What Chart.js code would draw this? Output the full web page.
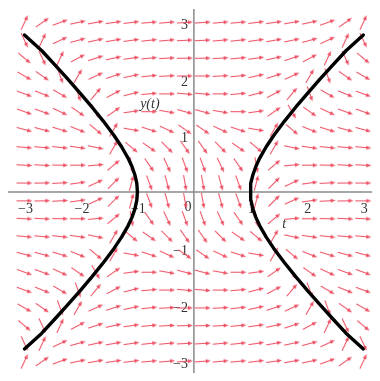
<!DOCTYPE html>
<html>
<head>
<meta charset="utf-8">
<script src="https://cdn.jsdelivr.net/npm/chart.js@4.4.1/dist/chart.umd.min.js"></script>
<style>
  html, body { margin: 0; padding: 0; background: #ffffff; }
  canvas { display: block; }
</style>
</head>
<body>
<canvas id="field" width="380" height="381"></canvas>
<script>
// Grid of the direction field (t across, y from top to bottom)
const tGrid = [-3, -2.684, -2.368, -2.053, -1.737, -1.421, -1.105, -0.789, -0.474, -0.158,
               0.158, 0.474, 0.789, 1.105, 1.421, 1.737, 2.053, 2.368, 2.684, 3];
const yGrid = [3, 2.684, 2.368, 2.053, 1.737, 1.421, 1.105, 0.789, 0.474, 0.158,
               -0.158, -0.474, -0.789, -1.105, -1.421, -1.737, -2.053, -2.368, -2.684, -3];

// Arrow direction in degrees (counter-clockwise from the +t direction), one row per yGrid value
const slopeAngles = [
  [65, 35, 20, 12, 10, 8, 7, 5, 5, 4, 4, 5, 5, 7, 8, 10, 12, 20, 35, 65],
  [-65, 65, 25, 15, 12, 10, 8, 6, 5, 3, 3, 5, 6, 8, 10, 12, 15, 25, 65, -65],
  [-40, -65, 65, 28, 18, 12, 8, 5, 3, 1, 1, 3, 5, 8, 12, 18, 28, 65, -65, -40],
  [-30, -35, -70, 60, 25, 18, 12, 6, 3, 0, 0, 3, 6, 12, 18, 25, 60, -70, -35, -30],
  [-20, -22, -30, -70, 50, 28, 14, 5, 0, -5, -5, 0, 5, 14, 28, 50, -70, -30, -22, -20],
  [-20, -20, -25, -35, -60, 35, 8, 0, -10, -15, -15, -10, 0, 8, 35, -60, -35, -25, -20, -20],
  [-15, -15, -17, -22, -40, 60, -10, -18, -25, -35, -35, -25, -18, -10, 60, -40, -22, -17, -15, -15],
  [-5, -5, -6, -8, -12, 60, -40, -35, -45, -55, -55, -45, -35, -40, 60, -12, -8, -6, -5, -5],
  [-3, -3, -1, 0, 5, 40, -80, -55, -65, -70, -70, -65, -55, -80, 40, 5, 0, -1, -3, -3],
  [0, 1, 3, 8, 25, 45, 75, -70, -75, -80, -80, -75, -70, 75, 45, 25, 8, 3, 1, 0],
  [0, 1, 3, 8, 25, 45, 75, -70, -75, -80, -80, -75, -70, 75, 45, 25, 8, 3, 1, 0],
  [-3, -3, -1, 0, 5, 40, -80, -55, -65, -70, -70, -65, -55, -80, 40, 5, 0, -1, -3, -3],
  [-5, -5, -6, -8, -12, 60, -40, -35, -45, -55, -55, -45, -35, -40, 60, -12, -8, -6, -5, -5],
  [-15, -15, -17, -22, -40, 60, -10, -18, -25, -35, -35, -25, -18, -10, 60, -40, -22, -17, -15, -15],
  [-20, -20, -25, -35, -60, 35, 8, 0, -10, -15, -15, -10, 0, 8, 35, -60, -35, -25, -20, -20],
  [-20, -22, -30, -70, 50, 28, 14, 5, 0, -5, -5, 0, 5, 14, 28, 50, -70, -30, -22, -20],
  [-30, -35, -70, 60, 25, 18, 12, 6, 3, 0, 0, 3, 6, 12, 18, 25, 60, -70, -35, -30],
  [-40, -65, 65, 28, 18, 12, 8, 5, 3, 1, 1, 3, 5, 8, 12, 18, 28, 65, -65, -40],
  [-65, 65, 25, 15, 12, 10, 8, 6, 5, 3, 3, 5, 6, 8, 10, 12, 15, 25, 65, -65],
  [65, 35, 20, 12, 10, 8, 7, 5, 5, 4, 4, 5, 5, 7, 8, 10, 12, 20, 35, 65]
];

// Hyperbola branches, listed from bottom to top
const rightBranchT = [3.0, 2.693, 2.462, 2.236, 2.016, 1.803, 1.601, 1.414, 1.281, 1.166, 1.097, 1.044, 1.011, 1.0,
                      1.011, 1.044, 1.097, 1.166, 1.281, 1.414, 1.601, 1.803, 2.016, 2.236, 2.462, 2.693, 3.0];
const rightBranchY = [-2.78, -2.5, -2.25, -2.0, -1.75, -1.5, -1.25, -1.0, -0.8, -0.6, -0.45, -0.3, -0.15, 0,
                      0.15, 0.3, 0.45, 0.6, 0.8, 1.0, 1.25, 1.5, 1.75, 2.0, 2.25, 2.5, 2.78];
const leftBranchT = [-3.0, -2.693, -2.462, -2.236, -2.016, -1.803, -1.601, -1.414, -1.281, -1.166, -1.097, -1.044, -1.011, -1.0,
                     -1.011, -1.044, -1.097, -1.166, -1.281, -1.414, -1.601, -1.803, -2.016, -2.236, -2.462, -2.693, -3.0];
const leftBranchY = [-2.78, -2.5, -2.25, -2.0, -1.75, -1.5, -1.25, -1.0, -0.8, -0.6, -0.45, -0.3, -0.15, 0,
                     0.15, 0.3, 0.45, 0.6, 0.8, 1.0, 1.25, 1.5, 1.75, 2.0, 2.25, 2.5, 2.78];

// Axis tick labels
const tTickValues = [-3, -2, -1, 1, 2, 3];
const tTickLabels = ['\u22123', '\u22122', '\u22121', '1', '2', '3'];
const yTickValues = [3, 2, 1, -1, -2, -3];
const yTickLabels = ['3', '2', '1', '\u22121', '\u22122', '\u22123'];

// Small arrow glyph pointing along +t, rotated per point
function makeArrow() {
  const c = document.createElement('canvas');
  c.width = 18; c.height = 7;
  const g = c.getContext('2d');
  g.strokeStyle = 'rgba(236,72,92,0.92)';
  g.fillStyle = 'rgba(236,72,92,0.92)';
  g.lineWidth = 1.1;
  g.beginPath();
  g.moveTo(1, 3.5);
  g.lineTo(13.5, 3.5);
  g.stroke();
  g.beginPath();
  g.moveTo(17, 3.5);
  g.lineTo(12, 1.5);
  g.lineTo(12, 5.5);
  g.closePath();
  g.fill();
  return c;
}
const arrowGlyph = makeArrow();

const fieldPoints = [];
const fieldAngles = [];
yGrid.forEach((yv, r) => {
  tGrid.forEach((tv, c) => {
    fieldPoints.push({ x: tv, y: yv });
    fieldAngles.push(slopeAngles[r][c]);
  });
});

const toXY = (ts, ys) => ts.map((t, i) => ({ x: t, y: ys[i] }));

const serif = '"Liberation Serif", "Times New Roman", serif';

const axesPlugin = {
  id: 'crossAxes',
  beforeDatasetsDraw(chart) {
    const { ctx, scales: { x, y }, chartArea } = chart;
    const x0 = x.getPixelForValue(0);
    const y0 = y.getPixelForValue(0);
    ctx.save();
    ctx.strokeStyle = '#8a8a8a';
    ctx.lineWidth = 1.5;
    ctx.beginPath();
    ctx.moveTo(chartArea.left + 3, y0);
    ctx.lineTo(chartArea.right - 3, y0);
    ctx.moveTo(x0, chartArea.top + 4);
    ctx.lineTo(x0, chartArea.bottom - 3);
    ctx.stroke();

    ctx.fillStyle = '#333333';
    ctx.font = '14px ' + serif;
    ctx.textBaseline = 'middle';
    ctx.textAlign = 'center';
    tTickValues.forEach((v, i) => {
      ctx.fillText(tTickLabels[i], x.getPixelForValue(v) + 1, y0 + 17);
    });
    ctx.fillText('0', x0 - 6, y0 + 15);
    ctx.textAlign = 'right';
    yTickValues.forEach((v, i) => {
      ctx.fillText(yTickLabels[i], x0 - 6, y.getPixelForValue(v) + 3);
    });

    ctx.font = 'italic 14px ' + serif;
    ctx.textAlign = 'center';
    ctx.fillText('y(t)', x.getPixelForValue(-0.78), y.getPixelForValue(1.55));
    ctx.fillText('t', x.getPixelForValue(1.6), y.getPixelForValue(-0.58));
    ctx.restore();
  }
};

new Chart(document.getElementById('field'), {
  type: 'scatter',
  data: {
    datasets: [
      {
        data: toXY(rightBranchT, rightBranchY),
        showLine: true, borderColor: '#000000', borderWidth: 3.4,
        pointRadius: 0, tension: 0, borderJoinStyle: 'round', borderCapStyle: 'round'
      },
      {
        data: toXY(leftBranchT, leftBranchY),
        showLine: true, borderColor: '#000000', borderWidth: 3.4,
        pointRadius: 0, tension: 0, borderJoinStyle: 'round', borderCapStyle: 'round'
      },
      {
        data: fieldPoints,
        pointStyle: arrowGlyph,
        pointRadius: 4,
        rotation: (ctx) => -fieldAngles[ctx.dataIndex],
        showLine: false
      }
    ]
  },
  options: {
    responsive: false,
    animation: false,
    devicePixelRatio: 1,
    layout: { padding: 0 },
    plugins: { legend: { display: false }, tooltip: { enabled: false } },
    events: [],
    scales: {
      x: { type: 'linear', min: -3.345, max: 3.207, display: false },
      y: { type: 'linear', min: -3.259, max: 3.31, display: false }
    }
  },
  plugins: [axesPlugin]
});
</script>
</body>
</html>
